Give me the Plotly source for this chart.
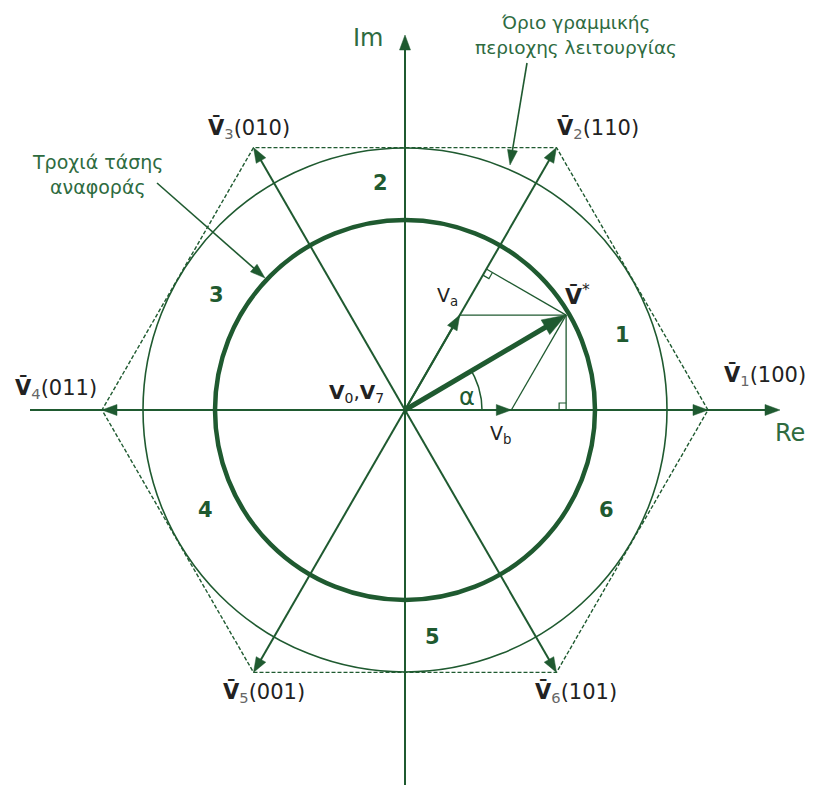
import numpy as np
import plotly.graph_objects as go

# ---------------- data ----------------
vector_codes = ["100", "110", "010", "011", "001", "101"]
vector_angles_deg = [0, 60, 120, 180, 240, 300]
hex_radius = 303            # |V1..V6|
linear_limit_radius = 262   # inscribed circle (linear region limit)
ref_radius = 190            # reference trajectory
vstar_mag = 187
vstar_angle_deg = 30.5
alpha_arc_radius = 77
sector_labels = ["1", "2", "3", "4", "5", "6"]
sector_pos_x = [217, -25, -189, -200, 27, 201]
sector_pos_y = [75, 227, 115, -100, -227, -100]
label_pos_x = [360, 193, -156, -349, -141, 171]
label_pos_y = [35, 282, 282, 22, -282, -282]
axis_half_len = 375

GREEN = "#1f5a30"
TGREEN = "#2e6b3f"
DARK = "#222222"
SUBC = "#666666"
SANS = "DejaVu Sans, Verdana, sans-serif"

fig = go.Figure()


def add_line(xs, ys, width=1.5, dash=None, color=GREEN):
    fig.add_trace(go.Scatter(x=xs, y=ys, mode="lines", hoverinfo="skip",
                             line=dict(color=color, width=width, dash=dash),
                             showlegend=False))


def add_arrow(x0, y0, x1, y1, width=2, head_len=15, head_w=11, color=GREEN):
    dx, dy = x1 - x0, y1 - y0
    L = np.hypot(dx, dy)
    ux, uy = dx / L, dy / L
    px, py = -uy, ux
    bx, by = x1 - ux * head_len, y1 - uy * head_len
    ex, ey = bx + ux * 2, by + uy * 2
    add_line([x0, ex], [y0, ey], width=width, color=color)
    fig.add_trace(go.Scatter(
        x=[x1, bx + px * head_w / 2, bx - px * head_w / 2, x1],
        y=[y1, by + py * head_w / 2, by - py * head_w / 2, y1],
        mode="lines", fill="toself", fillcolor=color,
        line=dict(color=color, width=0.5), hoverinfo="skip", showlegend=False))


# circles
for r, w in [(linear_limit_radius, 1.6), (ref_radius, 4.5)]:
    fig.add_shape(type="circle", xref="x", yref="y", x0=-r, y0=-r, x1=r, y1=r,
                  line=dict(color=GREEN, width=w))

# dashed hexagon
ang = np.radians(vector_angles_deg + [vector_angles_deg[0]])
add_line(list(hex_radius * np.cos(ang)), list(hex_radius * np.sin(ang)), width=1.4, dash="4px,2px")

# axes
add_arrow(-axis_half_len, 0, axis_half_len, 0, width=2, head_len=15, head_w=11)
add_arrow(0, -axis_half_len, 0, axis_half_len, width=2, head_len=15, head_w=11)

# six active vectors
for a in vector_angles_deg:
    t = np.radians(a)
    add_arrow(0, 0, hex_radius * np.cos(t), hex_radius * np.sin(t), width=2, head_len=15, head_w=11)

# reference vector decomposition
ts = np.radians(vstar_angle_deg)
vx, vy = vstar_mag * np.cos(ts), vstar_mag * np.sin(ts)
va_mag = vy / np.sin(np.radians(60))
va_x, va_y = va_mag * np.cos(np.radians(60)), vy
vb_x = vx - va_x
add_line([va_x, vx], [va_y, vy], width=1.3)
add_line([vb_x, vx], [0, vy], width=1.3)
add_line([vx, vx], [vy, 0], width=1.3)
u60 = np.array([np.cos(np.radians(60)), np.sin(np.radians(60))])
proj = (vx * u60[0] + vy * u60[1])
fx, fy = proj * u60
add_line([vx, fx], [vy, fy], width=1.3)
s = 7
add_line([vx - s, vx - s, vx], [0, s, s], width=1.2)
n_perp = np.array([vx - fx, vy - fy]) / np.hypot(vx - fx, vy - fy)
p1 = np.array([fx, fy]) - u60 * s
p2 = p1 + n_perp * s
p3 = np.array([fx, fy]) + n_perp * s
add_line([p1[0], p2[0], p3[0]], [p1[1], p2[1], p3[1]], width=1.2)
add_arrow(0, 0, va_x, va_y, width=2, head_len=15, head_w=11)
add_arrow(0, 0, vb_x, 0, width=2, head_len=15, head_w=11)
add_arrow(0, 0, vx, vy, width=5, head_len=24, head_w=17)
arc_t = np.linspace(0, ts, 30)
add_line(list(alpha_arc_radius * np.cos(arc_t)), list(alpha_arc_radius * np.sin(arc_t)), width=1.5)

# pointer arrows for the notes
add_arrow(-248, 227, -140, 132, width=1.6, head_len=15, head_w=10)
add_arrow(122, 347, 105, 245, width=1.6, head_len=15, head_w=10)

annotations = []


def txt(x, y, text, size=20, color=DARK, family=SANS):
    annotations.append(dict(x=x, y=y, xref="x", yref="y", text=text, showarrow=False,
                            xanchor="center", yanchor="middle",
                            font=dict(size=size, color=color, family=family)))


for code, lx, ly, k in zip(vector_codes, label_pos_x, label_pos_y, range(1, 7)):
    txt(lx, ly, f"<b>V\u0304</b><sub><span style='color:{SUBC}'>{k}</span></sub>({code})", size=21)

for lab, sx, sy in zip(sector_labels, sector_pos_x, sector_pos_y):
    txt(sx, sy, f"<b>{lab}</b>", size=21, color=GREEN)

txt(172, 115, "<b>V\u0304</b><sup>*</sup>", size=22)
txt(42, 114, f"V<sub>a</sub>", size=19)
txt(95, -24, f"V<sub>b</sub>", size=19)
txt(62, 13, "α", size=24, color=GREEN)
txt(-49, 17, f"<b>V</b><sub>0</sub>,<b>V</b><sub>7</sub>", size=20)
txt(-37, 372, "Im", size=24, color=TGREEN)
txt(385, -23, "Re", size=24, color=TGREEN)

txt(-308, 248, "Τροχιά τάσης", size=19, color=TGREEN)
txt(-307, 223, "αναφοράς", size=19, color=TGREEN)
txt(170, 388, "Όριο γραμμικής", size=18.5, color=TGREEN)
txt(171, 363, "περιοχης λειτουργίας", size=18.5, color=TGREEN)

# The page body has an 8px margin: the figure is sized and ranged so that the
# drawing sits at the same place as the reference within the 813x787 window.
fig.update_layout(
    width=805, height=779, autosize=False,
    margin=dict(l=0, r=0, t=0, b=0),
    paper_bgcolor="white", plot_bgcolor="white",
    xaxis=dict(range=[-397, 408], visible=False, fixedrange=True),
    yaxis=dict(range=[-377, 402], visible=False, fixedrange=True),
    annotations=annotations,
    showlegend=False,
)

fig.write_html("out.html", config={"displayModeBar": False})
